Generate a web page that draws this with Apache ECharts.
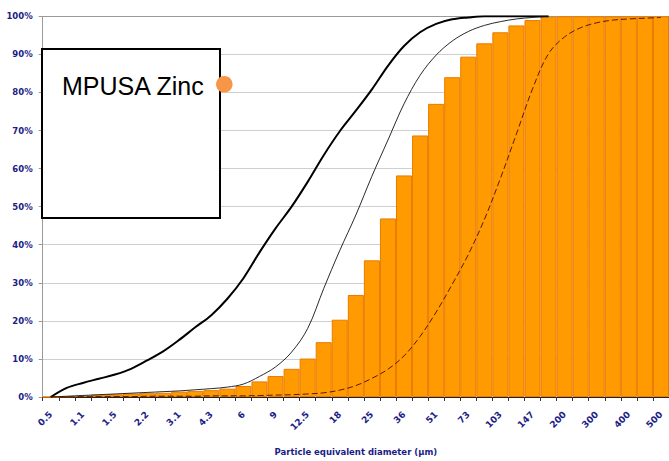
<!DOCTYPE html>
<html>
<head>
<meta charset="utf-8">
<script src="https://cdn.jsdelivr.net/npm/echarts@6/dist/echarts.min.js"></script>
<style>
html,body{margin:0;padding:0;background:#fff;}
#chart{width:669px;height:461px;}
</style>
</head>
<body>
<div id="chart"></div>
<script>
// Particle size categories (µm); every other one is labelled
const categories = ['0.5','0.8','1.1','1.3','1.5','1.8','2.2','2.6','3.1','3.7','4.3','5','6','7.5','9','11','12.5','15','18','21','25','30','36','43','51','61','73','87','103','123','147','175','200','250','300','350','400','450','500'];

// Cumulative % (orange bars) – MPUSA Zinc
const zincBars = [0,0.2,0.3,0.6,0.7,0.9,1.0,1.1,1.4,1.6,1.8,2.2,2.9,4.1,5.5,7.4,10.1,14.4,20.3,26.8,35.9,46.9,58.2,68.7,77.0,84.0,89.4,92.9,95.8,97.6,99.0,99.9,100,100,100,100,100,100,100];

// Reference curves
const fineCurve = [0,2.4,3.7,4.8,5.9,7.4,9.6,12.0,15.0,18.3,21.5,25.8,31.2,38.0,44.3,50.0,56.5,63.5,69.8,75.2,80.8,87.0,92.2,95.8,98.0,99.2,99.7,100,100,100,100,100,null,null,null,null,null,null,null];
const mediumCurve = [0,0.2,0.4,0.6,0.8,1.0,1.2,1.4,1.6,1.9,2.2,2.6,3.4,5.4,7.9,11.8,18.0,28.5,38.5,47.8,58.0,67.5,77.0,84.5,89.8,93.5,96.0,97.6,98.6,99.3,99.7,100,null,null,null,null,null,null,null];
const coarseCurve = [0,0,0.1,0.1,0.1,0.1,0.2,0.2,0.2,0.2,0.3,0.3,0.3,0.4,0.5,0.6,0.8,1.1,1.8,3.0,4.9,7.3,10.8,15.9,22.3,29.6,37.4,46.6,57.4,69.1,80.9,90.2,94.6,97.0,98.3,99.0,99.3,99.5,99.7];

const yTicks = [0,10,20,30,40,50,60,70,80,90,100];

const chart = echarts.init(document.getElementById('chart'), null, {renderer:'svg'});
const labelColor = '#1c1c86';
const gridColors = yTicks.map((v,i)=> i===yTicks.length-1 ? '#9a9a9a' : '#cfcfcf');

chart.setOption({
  animation:false,
  grid:{left:42.7, right:-5.8, top:16.3, bottom:62.7, containLabel:false},
  xAxis:{
    type:'category',
    data:categories,
    boundaryGap:true,
    name:'Particle equivalent diameter (µm)',
    nameLocation:'middle',
    nameGap:50,
    nameTextStyle:{color:labelColor, fontWeight:'bold', fontSize:8.5, fontFamily:'DejaVu Sans'},
    axisLine:{lineStyle:{color:'#222', width:1}},
    axisTick:{show:true, interval:0, length:4, lineStyle:{color:'#333'}},
    axisLabel:{interval:1, rotate:45, margin:16, color:labelColor, fontWeight:'bold', fontSize:9, fontFamily:'DejaVu Sans'},
    splitLine:{show:false}
  },
  yAxis:{
    type:'value',
    min:0, max:100, interval:10,
    axisLine:{show:true, lineStyle:{color:'#9a9a9a'}},
    axisTick:{show:true, length:4, lineStyle:{color:'#9a9a9a'}},
    axisLabel:{formatter:'{value}%', margin:10, color:labelColor, fontWeight:'bold', fontSize:8.5, fontFamily:'DejaVu Sans'},
    splitLine:{lineStyle:{color:gridColors, width:1}}
  },
  series:[
    {type:'bar', data:zincBars, barCategoryGap:'0%', itemStyle:{color:'#ff9a00', borderColor:'#ea7a00', borderWidth:1}, z:1},
    {type:'line', data:fineCurve, smooth:0.35, symbol:'none', lineStyle:{color:'#000', width:2}, z:3},
    {type:'line', data:mediumCurve, smooth:0.35, symbol:'none', lineStyle:{color:'#111', width:0.9}, z:3},
    {type:'line', data:coarseCurve, smooth:0.35, symbol:'none', lineStyle:{color:'#5a1a00', width:1, type:[6,3]}, z:3}
  ],
  graphic:[
    {type:'rect', z:100, shape:{x:42, y:49, width:178, height:169}, style:{fill:'#fff', stroke:'#000', lineWidth:2}},
    {type:'text', z:101, x:62, y:86, style:{text:'MPUSA Zinc', fill:'#000', font:'25px "Liberation Sans"', textVerticalAlign:'middle', verticalAlign:'middle'}},
    {type:'circle', z:102, shape:{cx:224.3, cy:84.3, r:8.3}, style:{fill:'#f79646'}}
  ]
});
</script>
</body>
</html>
